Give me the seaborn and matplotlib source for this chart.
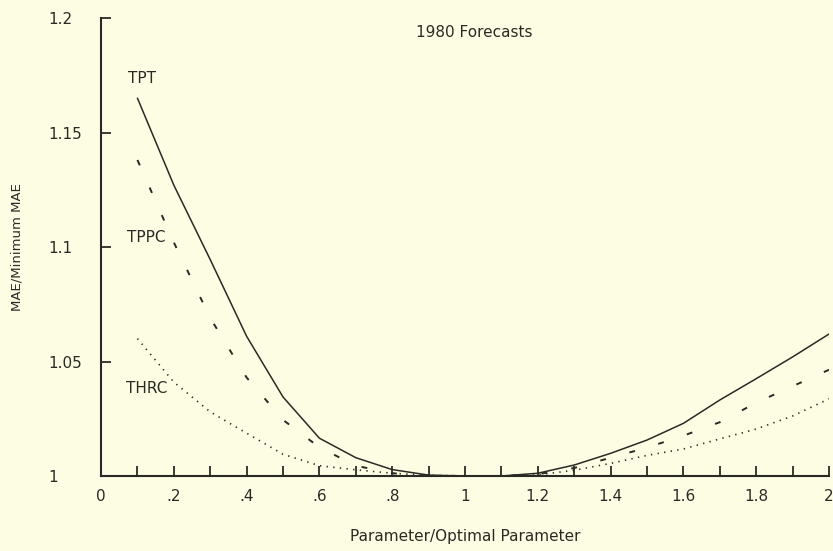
"""Recreate the 1980 forecasts MAE ratio chart."""

import matplotlib
matplotlib.use("Agg")
import matplotlib.pyplot as plt
import pandas as pd
import seaborn as sns

# ratio of parameter to optimal parameter
param_ratio = [0.1, 0.2, 0.3, 0.4, 0.5, 0.6, 0.7, 0.8, 0.9, 1.0,
               1.1, 1.2, 1.3, 1.4, 1.5, 1.6, 1.7, 1.8, 1.9, 2.0]

# MAE / minimum MAE for each series
tpt = [1.165, 1.127, 1.0945, 1.061, 1.0345, 1.0165, 1.008, 1.0028, 1.0004, 1.0,
       1.0, 1.0012, 1.0048, 1.0099, 1.0157, 1.023, 1.0332, 1.0425, 1.052, 1.062]
tppc = [1.138, 1.102, 1.069, 1.043, 1.0245, 1.0125, 1.0045, 1.0012, 1.0002, 1.0,
        1.0, 1.0008, 1.0035, 1.008, 1.0124, 1.0176, 1.0235, 1.032, 1.0392, 1.0464]
thrc = [1.060, 1.041, 1.028, 1.0187, 1.0095, 1.0045, 1.0027, 1.0012, 1.0003, 1.0,
        1.0, 1.0005, 1.0025, 1.0055, 1.009, 1.0118, 1.0162, 1.0205, 1.0262, 1.0337]

series_names = ["TPT", "TPPC", "THRC"]
x_ticks = [i / 10 for i in range(0, 21)]
x_labels = ["0", "", ".2", "", ".4", "", ".6", "", ".8", "", "1",
            "", "1.2", "", "1.4", "", "1.6", "", "1.8", "", "2"]
y_ticks = [1.0, 1.05, 1.1, 1.15, 1.2]
y_labels = ["1", "1.05", "1.1", "1.15", "1.2"]

BG = "#fdfde4"
INK = "#2a2a24"

sns.set_theme(style="white", rc={"axes.facecolor": BG, "figure.facecolor": BG})
plt.rcParams["font.family"] = ["DejaVu Sans"]

df = pd.DataFrame({"ratio": param_ratio, "TPT": tpt, "TPPC": tppc, "THRC": thrc})

fig, ax = plt.subplots(figsize=(8.33, 5.51), dpi=100)
fig.subplots_adjust(left=0.1213, right=0.9952, bottom=0.1361, top=0.9673)

sns.lineplot(data=df, x="ratio", y="TPT", ax=ax, color=INK, linewidth=1.1)
sns.lineplot(data=df, x="ratio", y="TPPC", ax=ax, color=INK, linewidth=1.4,
             linestyle=(0, (3.0, 12.5)))
sns.lineplot(data=df, x="ratio", y="THRC", ax=ax, color=INK, linewidth=1.2,
             linestyle=(0, (0.8, 3.2)))

ax.set_xlim(0, 2)
ax.set_ylim(1.0, 1.2)
ax.set_xticks(x_ticks)
ax.set_xticklabels(x_labels, fontsize=11, color=INK)
ax.set_yticks(y_ticks)
ax.set_yticklabels(y_labels, fontsize=11, color=INK)
for lbl in ax.get_yticklabels():
    lbl.set_horizontalalignment("left")

ax.tick_params(axis="both", direction="in", length=7, width=1.3, color=INK,
               bottom=True, left=True)
ax.tick_params(axis="y", pad=38)
ax.tick_params(axis="x", pad=9)

sns.despine(ax=ax)
for side in ["left", "bottom"]:
    ax.spines[side].set_color(INK)
    ax.spines[side].set_linewidth(1.5)

ax.set_xlabel("Parameter/Optimal Parameter", fontsize=11, color=INK, labelpad=18)
ax.set_ylabel("MAE/Minimum MAE", fontsize=9.5, color=INK)
ax.yaxis.set_label_coords(-0.107, 0.5)

ax.text(1.025, 1.1938, "1980 Forecasts", ha="center", va="center", fontsize=11, color=INK)
label_pos = {"TPT": (0.113, 1.1737), "TPPC": (0.125, 1.104), "THRC": (0.125, 1.0384)}
for name in series_names:
    lx, ly = label_pos[name]
    ax.text(lx, ly, name, ha="center", va="center", fontsize=11, color=INK)

fig.savefig("out.png", dpi=100, facecolor=BG)
plt.close(fig)
